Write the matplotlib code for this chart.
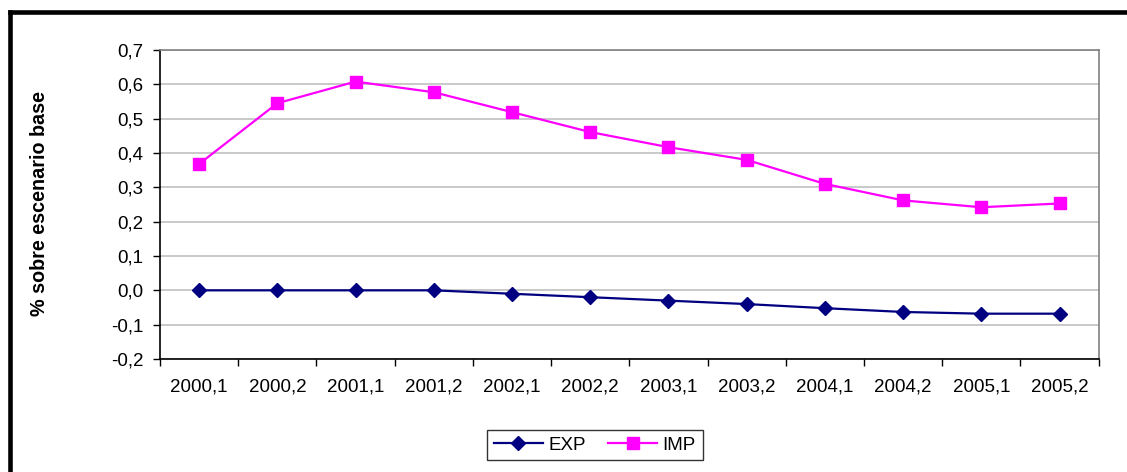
import matplotlib
matplotlib.use("Agg")
import matplotlib.pyplot as plt
from matplotlib.lines import Line2D

# Datos
periodos = ["2000,1", "2000,2", "2001,1", "2001,2", "2002,1", "2002,2",
            "2003,1", "2003,2", "2004,1", "2004,2", "2005,1", "2005,2"]
exp_vals = [0.0, 0.0, 0.0, 0.0, -0.01, -0.02, -0.03, -0.04, -0.052, -0.063, -0.068, -0.068]
imp_vals = [0.368, 0.545, 0.608, 0.577, 0.519, 0.461, 0.417, 0.38, 0.31, 0.262, 0.242, 0.253]
y_ticks = [-0.2, -0.1, 0.0, 0.1, 0.2, 0.3, 0.4, 0.5, 0.6, 0.7]

plt.rcParams["font.family"] = ["Liberation Sans", "DejaVu Sans"]

fig = plt.figure(figsize=(11.27, 4.72), dpi=100)
ax = fig.add_axes([160 / 1127, 1 - 359 / 472, 938.7 / 1127, 309 / 472])

x = list(range(len(periodos)))
ax.plot(x, exp_vals, color="#000080", lw=1.6, marker="D", ms=7.5, label="EXP", zorder=3)
ax.plot(x, imp_vals, color="#FF00FF", lw=1.6, marker="s", ms=9, label="IMP", zorder=3)

ax.set_xlim(-0.5, len(periodos) - 0.5)
ax.set_ylim(-0.2, 0.7)
ax.set_yticks(y_ticks)
ax.set_yticklabels([f"{v:.1f}".replace(".", ",").replace("-0,0", "0,0") for v in y_ticks],
                   fontsize=13.5)
ax.yaxis.grid(True, color="#c0c0c0", lw=1.2)
ax.set_axisbelow(True)

# ticks en los límites de categoría, etiquetas centradas
ax.set_xticks([i - 0.5 for i in range(len(periodos) + 1)])
ax.set_xticklabels([])
ax.set_xticks(x, minor=True)
ax.set_xticklabels(periodos, minor=True, fontsize=13.5)
ax.tick_params(axis="x", which="major", length=5, width=1, color="black")
ax.tick_params(axis="x", which="minor", length=0, pad=14)
ax.tick_params(axis="y", length=5, width=1, pad=7)

for side in ["left", "bottom"]:
    ax.spines[side].set_linewidth(1.2)
    ax.spines[side].set_color("black")
for side in ["top", "right"]:
    ax.spines[side].set_linewidth(1.2)
    ax.spines[side].set_color("#808080")

fig.text(40 / 1127, 1 - 204 / 472, "% sobre escenario base", rotation=90,
         ha="center", va="center", fontsize=14.2, fontweight="bold")

handles = [
    Line2D([], [], color="#000080", lw=1.6, marker="D", ms=7.5),
    Line2D([], [], color="#FF00FF", lw=1.6, marker="s", ms=9),
]
leg = fig.legend(handles, ["EXP", "IMP"], loc="center", ncol=2,
                 bbox_to_anchor=(595 / 1127, 1 - 445 / 472), fontsize=13.5,
                 frameon=True, fancybox=False, edgecolor="black",
                 handlelength=2.6, columnspacing=1.2, handletextpad=0.3,
                 borderpad=0.35, borderaxespad=0)
leg.get_frame().set_linewidth(1.0)

# marco negro exterior (recortado: sólo arriba e izquierda)
fig.add_artist(Line2D([10 / 1127, 10 / 1127], [0, 1 - 12 / 472],
                      color="black", lw=3.3, transform=fig.transFigure,
                      solid_capstyle="projecting"))
fig.add_artist(Line2D([10 / 1127, 1], [1 - 12 / 472, 1 - 12 / 472],
                      color="black", lw=3.3, transform=fig.transFigure,
                      solid_capstyle="projecting"))

fig.savefig("out.png", dpi=100)
